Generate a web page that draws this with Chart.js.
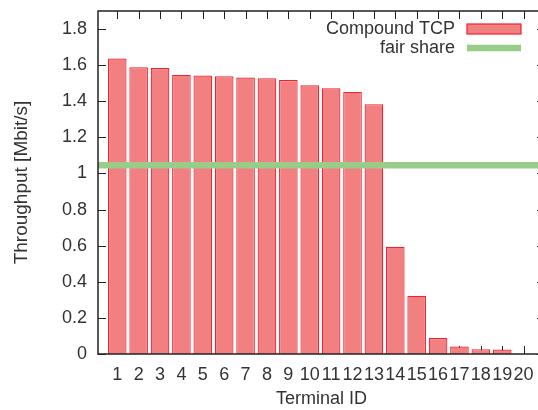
<!DOCTYPE html>
<html>
<head>
<meta charset="utf-8">
<script src="https://cdn.jsdelivr.net/npm/chart.js@4/dist/chart.umd.min.js"></script>
<style>
  html, body { margin: 0; padding: 0; background: #fff; overflow: hidden; width: 538px; height: 410px; }
  #wrap { position: absolute; left: 0; top: 0; width: 560px; height: 410px; }
</style>
</head>
<body>
<div id="wrap"><canvas id="c" width="560" height="410"></canvas></div>
<script>
// Per-terminal throughput measured with Compound TCP
const terminalIds = [1, 2, 3, 4, 5, 6, 7, 8, 9, 10, 11, 12, 13, 14, 15, 16, 17, 18, 19, 20];
const throughput = [1.637, 1.588, 1.584, 1.546, 1.543, 1.538, 1.531, 1.527, 1.518, 1.489,
                    1.472, 1.452, 1.384, 0.594, 0.322, 0.089, 0.041, 0.027, 0.025, 0];
const fairShare = 1.045;
const yTicks = [0, 0.2, 0.4, 0.6, 0.8, 1, 1.2, 1.4, 1.6, 1.8];
const seriesLabels = ['Compound TCP', 'fair share'];

const FONT = '"Liberation Sans", Arial, Helvetica, sans-serif';
const INK = '#333333';

// Inward tick marks on all four sides of the plot frame
const tickMarks = {
  id: 'tickMarks',
  beforeDatasetsDraw(chart) {
    const { ctx, chartArea: a, scales } = chart;
    const len = 8;
    ctx.save();
    ctx.strokeStyle = '#222';
    ctx.lineWidth = 1;
    ctx.beginPath();
    scales.y.ticks.forEach(t => {
      const y = Math.round(scales.y.getPixelForValue(t.value)) + 0.5;
      ctx.moveTo(a.left, y); ctx.lineTo(a.left + len, y);
      ctx.moveTo(a.right, y); ctx.lineTo(a.right - len, y);
    });
    scales.x.ticks.forEach(t => {
      const x = Math.round(scales.x.getPixelForValue(t.value)) + 0.5;
      ctx.moveTo(x, a.bottom); ctx.lineTo(x, a.bottom - len);
      ctx.moveTo(x, a.top); ctx.lineTo(x, a.top + len);
    });
    ctx.stroke();
    ctx.restore();
  }
};

// Plot border
const frame = {
  id: 'frame',
  afterDatasetsDraw(chart) {
    const { ctx, chartArea: a } = chart;
    ctx.save();
    ctx.strokeStyle = '#222';
    ctx.lineWidth = 1.5;
    ctx.strokeRect(a.left, a.top, a.right - a.left, a.bottom - a.top);
    ctx.restore();
  }
};

// Key in the upper right corner: right-aligned text followed by the sample
const key = {
  id: 'key',
  afterDraw(chart) {
    const { ctx, chartArea: a } = chart;
    const textRight = a.right - 90;
    const sampleLeft = a.right - 78;
    const sampleWidth = 54;
    ctx.save();
    ctx.font = '18px ' + FONT;
    ctx.textAlign = 'right';
    ctx.textBaseline = 'alphabetic';
    chart.data.datasets.forEach((ds, i) => {
      const base = a.top + 23 + i * 19;
      const mid = base - 5;
      ctx.fillStyle = INK;
      ctx.fillText(ds.label, textRight, base);
      if (ds.type === 'line') {
        ctx.strokeStyle = ds.borderColor;
        ctx.lineWidth = ds.borderWidth;
        ctx.beginPath();
        ctx.moveTo(sampleLeft, mid);
        ctx.lineTo(sampleLeft + sampleWidth, mid);
        ctx.stroke();
      } else {
        ctx.fillStyle = ds.backgroundColor;
        ctx.fillRect(sampleLeft, mid - 5, sampleWidth, 10);
        ctx.strokeStyle = ds.borderColor;
        ctx.lineWidth = 1.2;
        ctx.strokeRect(sampleLeft, mid - 5, sampleWidth, 10);
      }
    });
    ctx.restore();
  }
};

new Chart(document.getElementById('c'), {
  type: 'bar',
  data: {
    datasets: [
      {
        label: seriesLabels[0],
        data: terminalIds.map((id, i) => ({ x: id, y: throughput[i] })),
        backgroundColor: '#f38080',
        borderColor: '#ee2230',
        borderWidth: 1.2,
        borderSkipped: 'bottom',
        barPercentage: 0.87,
        categoryPercentage: 1,
        order: 1
      },
      {
        type: 'line',
        label: seriesLabels[1],
        data: [{ x: 0.1, y: fairShare }, { x: 21, y: fairShare }],
        borderColor: '#99cc88',
        borderWidth: 6.5,
        pointRadius: 0,
        fill: false,
        order: 0
      }
    ]
  },
  options: {
    responsive: false,
    animation: false,
    devicePixelRatio: 1,
    layout: { padding: { left: 0, top: 11, right: 15, bottom: 0 } },
    plugins: { legend: { display: false }, tooltip: { enabled: false } },
    scales: {
      x: {
        type: 'linear',
        min: 0.1,
        max: 21,
        offset: false,
        grid: { display: false, drawTicks: false, offset: false },
        border: { display: false },
        afterBuildTicks: s => { s.ticks = terminalIds.map(v => ({ value: v })); },
        afterFit: s => { s.height = 56; s.paddingLeft = 0; s.paddingRight = 0; },
        ticks: {
          autoSkip: false, maxRotation: 0, padding: 10,
          color: INK, font: { family: FONT, size: 18 },
          callback: v => String(v)
        },
        title: {
          display: true, text: 'Terminal ID', color: INK,
          font: { family: FONT, size: 18 }, padding: { top: -1, bottom: 0 }
        }
      },
      y: {
        min: 0,
        max: 1.9,
        grid: { display: false, drawTicks: false },
        border: { display: false },
        afterBuildTicks: s => { s.ticks = yTicks.map(v => ({ value: v })); },
        afterFit: s => { s.width = 98; s.paddingTop = 0; s.paddingBottom = 0; },
        ticks: {
          padding: 11, color: INK, font: { family: FONT, size: 18 },
          callback: v => String(v)
        },
        title: {
          display: true, text: 'Throughput [Mbit/s]', color: INK,
          font: { family: FONT, size: 19 }, padding: { top: 10, bottom: 0 }
        }
      }
    }
  },
  plugins: [tickMarks, frame, key]
});
</script>
</body>
</html>
